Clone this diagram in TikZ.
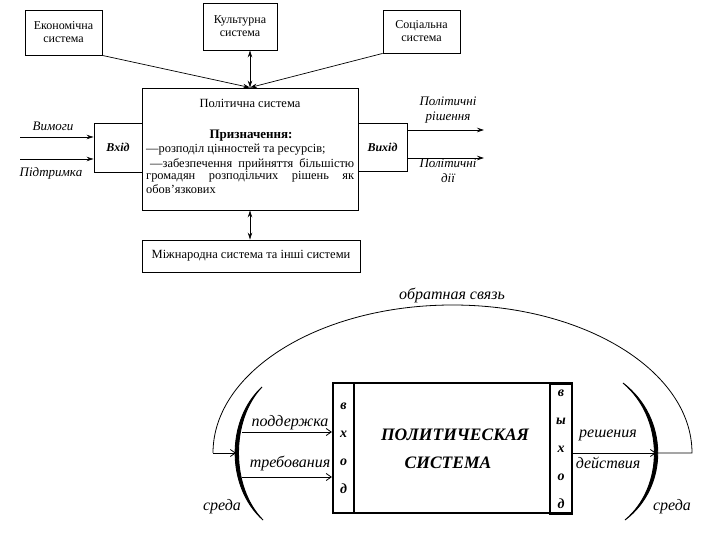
\documentclass[tikz,border=0pt]{standalone}
\usepackage{fontspec}
\setmainfont{Liberation Serif}
\usetikzlibrary{arrows.meta}
\begin{document}
\begin{tikzpicture}[x=1pt,y=-1pt,
  box/.style={draw, line width=0.9pt, inner sep=0pt, align=center, font=\fontsize{12}{13}\selectfont},
  arr/.style={-{Stealth[length=7pt,width=4.5pt]}, line width=0.7pt},
  darr/.style={{Stealth[length=7pt,width=4.5pt]}-{Stealth[length=7pt,width=4.5pt]}, line width=0.7pt},
  lbl/.style={font=\fontsize{13}{15}\selectfont\itshape, align=center, inner sep=0pt},
  body/.style={font=\fontsize{12.4}{14}\selectfont, inner sep=0pt, anchor=west},
  thick box/.style={draw, line width=2.2pt, inner sep=0pt},
  strip/.style={draw, line width=2.2pt, inner sep=0pt, align=center, font=\fontsize{14}{28}\selectfont\bfseries\itshape},
  arr2/.style={-{Straight Barb[length=5pt,width=7pt]}, line width=0.8pt},
  blbl/.style={font=\fontsize{16}{18}\selectfont\itshape, inner sep=0pt},
  brk/.style={line width=0.9pt, fill=black},
]
\useasboundingbox (0,0) rectangle (720,540);

% ---------- top diagram ----------
\node[box, minimum width=77pt, minimum height=45pt] (eko) at (63.5,32.5) {Економічна\\система};
\node[box, minimum width=74pt, minimum height=47pt] (kult) at (240,26.5) {Культурна\\система};
\node[box, minimum width=77pt, minimum height=43pt] (soc) at (421.5,31.5) {Соціальна\\система};
\node[box, minimum width=216pt, minimum height=122pt] (pol) at (250,149) {};
\node[box, minimum width=48pt, minimum height=49pt, font=\fontsize{12}{13}\selectfont\bfseries\itshape] (vhid) at (118,147.5) {Вхід};
\node[box, minimum width=49pt, minimum height=48pt, font=\fontsize{12}{13}\selectfont\bfseries\itshape] (vyhid) at (382.5,147) {Вихід};
\node[box, minimum width=218pt, minimum height=32pt, font=\fontsize{12.5}{13}\selectfont] (mizh) at (251,256) {Міжнародна система та інші системи};

\node[font=\fontsize{12.5}{13}\selectfont, inner sep=0pt] (t1) at (250,103) {Політична система};
\node[font=\fontsize{13}{14}\selectfont\bfseries, inner sep=0pt] (t2) at (251,136) {Призначення:};
\node[body] (l1) at (146,150) {—розподіл цінностей та ресурсів;};
\node[body] (l2) at (150,164) {\hbox to 204pt{—забезпечення\hfill прийняття\hfill більшістю}};
\node[body] (l3) at (146,177) {\hbox to 208pt{громадян\hfill розподільчих\hfill рішень\hfill як}};
\node[body] (l4) at (146,189) {обов'язкових};

\draw[arr] (eko.south east) -- (pol.north);
\draw[arr] (soc.south west) -- (pol.north);
\draw[darr] (kult.south -| pol.north) -- (pol.north);
\draw[darr] (pol.south) -- (mizh.north -| pol.south);

\coordinate (vimS) at (20,137);
\coordinate (pidS) at (20,159);
\draw[arr] (vimS) -- (vimS -| vhid.west);
\draw[arr] (pidS) -- (pidS -| vhid.west);
\node[lbl] (vim) at (53,126) {Вимоги};
\node[lbl] (pid) at (51,173) {Підтримка};

\coordinate (o1E) at (484,130);
\coordinate (o2E) at (484,158);
\draw[arr] (o1E -| vyhid.east) -- (o1E);
\draw[arr] (o2E -| vyhid.east) -- (o2E);
\node[lbl] (pr) at (448,110) {Політичні\\рішення};
\node[lbl] (pd) at (448,171) {Політичні\\дії};

% ---------- bottom diagram ----------
\node[thick box, minimum width=239pt, minimum height=130pt] (ps) at (452.5,448) {};
\node[strip, minimum width=21pt, minimum height=130pt] (vhod) at (343.5,448) {в\\х\\о\\д};
\node[strip, minimum width=22pt, minimum height=130pt] (vyhod) at (561,449) {в\\ы\\х\\о\\д};
\node[font=\fontsize{17.5}{20}\selectfont\bfseries\itshape, inner sep=0pt] (ps1) at (455,435) {ПОЛИТИЧЕСКАЯ};
\node[font=\fontsize{17.5}{20}\selectfont\bfseries\itshape, inner sep=0pt] (ps2) at (448,463) {СИСТЕМА};

% brackets
\filldraw[brk] (262,387) .. controls (226,420) and (226,487) .. (263,520)
      .. controls (230.5,487) and (230.5,420) .. (262,387) -- cycle;
\filldraw[brk] (623,383) .. controls (669,418) and (669,487) .. (625,520)
      .. controls (664.5,487) and (664.5,418) .. (623,383) -- cycle;

\coordinate (sup) at (242,432);
\coordinate (tre) at (242,477);
\draw[arr2] (sup) -- (sup -| vhod.west);
\draw[arr2] (tre) -- (tre -| vhod.west);

\coordinate (Rb) at (656,453);
\coordinate (fr) at (692,453);
\coordinate (fl) at (213,453);
\coordinate (Lb) at (236,453);
\draw[arr2] (Rb -| vyhod.east) -- (Rb);
\draw[line width=0.8pt] (Rb) -- (fr) arc[start angle=0, end angle=180, x radius=239.5pt, y radius=148pt];
\draw[arr2] (fl) -- (Lb);

\node[blbl] (podd) at (290,423) {поддержка};
\node[blbl] (treb) at (290,463) {требования};
\node[blbl] (resh) at (608,435) {решения};
\node[blbl] (deis) at (608,463) {действия};
\node[blbl] (sr1) at (222,507) {среда};
\node[blbl] (sr2) at (672,507) {среда};
\node[blbl] (obr) at (452,295) {обратная связь};
\end{tikzpicture}
\end{document}
